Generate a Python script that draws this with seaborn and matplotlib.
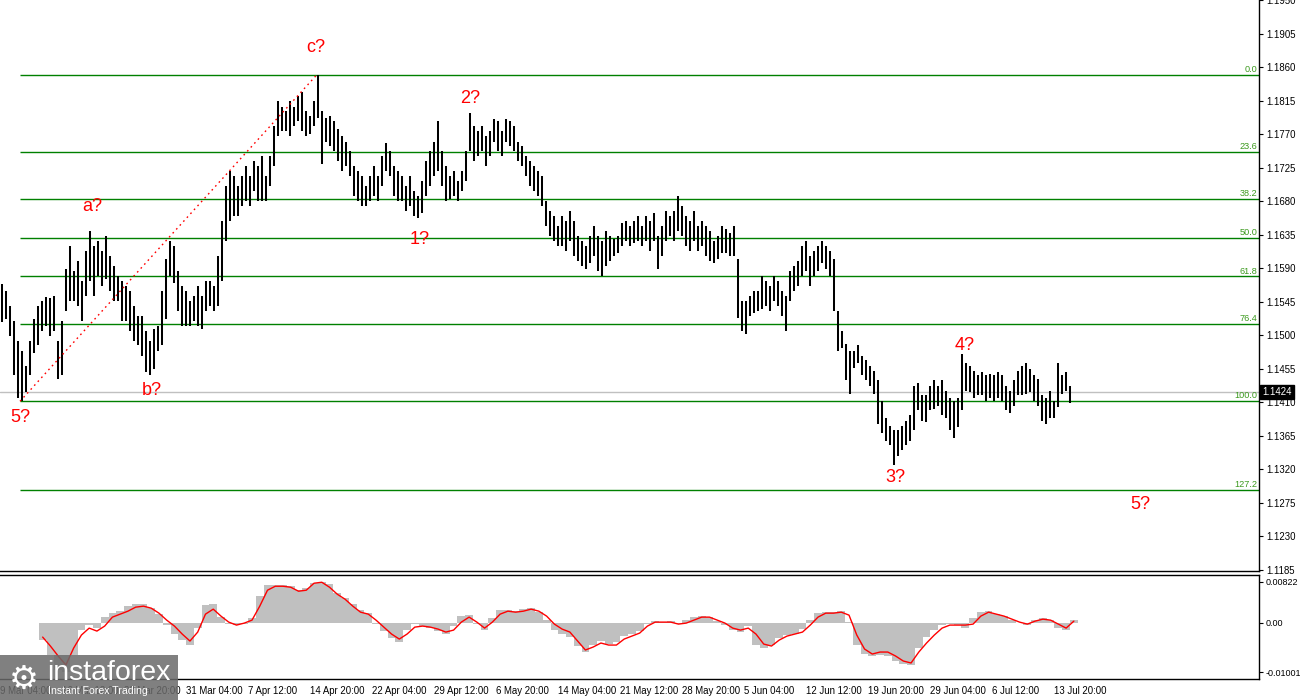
import numpy as np
import matplotlib
matplotlib.use("Agg")
import matplotlib.pyplot as plt
import matplotlib.transforms as mtransforms
from matplotlib.patches import Rectangle
import seaborn as sns

# ---------------- data ----------------
highs = [
1.1569, 1.1559, 1.1539, 1.1519, 1.1492, 1.1479, 1.1459, 1.1492, 1.1522, 1.1539,
1.1546, 1.1551, 1.1550, 1.1553, 1.1492, 1.1519, 1.1589, 1.1620, 1.1586, 1.1600,
1.1573, 1.1613, 1.1640, 1.1620, 1.1626, 1.1613, 1.1633, 1.1606, 1.1593, 1.1580,
1.1573, 1.1566, 1.1559, 1.1539, 1.1526, 1.1526, 1.1506, 1.1492, 1.1508, 1.1512,
1.1559, 1.1602, 1.1626, 1.1620, 1.1586, 1.1566, 1.1559, 1.1546, 1.1553, 1.1566,
1.1553, 1.1573, 1.1573, 1.1566, 1.1606, 1.1653, 1.1700, 1.1720, 1.1714, 1.1700,
1.1714, 1.1727, 1.1714, 1.1734, 1.1727, 1.1740, 1.1714, 1.1740, 1.1781, 1.1814,
1.1807, 1.1801, 1.1814, 1.1807, 1.1821, 1.1827, 1.1801, 1.1794, 1.1814, 1.1850,
1.1801, 1.1791, 1.1794, 1.1787, 1.1777, 1.1767, 1.1760, 1.1747, 1.1727, 1.1720,
1.1714, 1.1700, 1.1714, 1.1727, 1.1714, 1.1740, 1.1758, 1.1747, 1.1727, 1.1720,
1.1714, 1.1700, 1.1714, 1.1693, 1.1687, 1.1707, 1.1734, 1.1747, 1.1760, 1.1787,
1.1747, 1.1727, 1.1714, 1.1720, 1.1707, 1.1720, 1.1747, 1.1798, 1.1781, 1.1774,
1.1781, 1.1767, 1.1774, 1.1790, 1.1787, 1.1774, 1.1790, 1.1787, 1.1781, 1.1760,
1.1754, 1.1740, 1.1734, 1.1727, 1.1720, 1.1714, 1.1680, 1.1667, 1.1660, 1.1647,
1.1660, 1.1653, 1.1667, 1.1653, 1.1633, 1.1626, 1.1620, 1.1633, 1.1647, 1.1633,
1.1626, 1.1640, 1.1633, 1.1629, 1.1633, 1.1651, 1.1653, 1.1647, 1.1653, 1.1660,
1.1647, 1.1660, 1.1653, 1.1664, 1.1633, 1.1647, 1.1667, 1.1660, 1.1667, 1.1687,
1.1673, 1.1660, 1.1653, 1.1667, 1.1647, 1.1653, 1.1647, 1.1640, 1.1626, 1.1633,
1.1647, 1.1643, 1.1637, 1.1647, 1.1602, 1.1546, 1.1546, 1.1553, 1.1559, 1.1559,
1.1580, 1.1573, 1.1566, 1.1580, 1.1573, 1.1559, 1.1553, 1.1586, 1.1593, 1.1600,
1.1620, 1.1626, 1.1606, 1.1613, 1.1620, 1.1626, 1.1620, 1.1613, 1.1602, 1.1533,
1.1506, 1.1488, 1.1479, 1.1479, 1.1486, 1.1472, 1.1466, 1.1459, 1.1452, 1.1439,
1.1412, 1.1388, 1.1378, 1.1372, 1.1372, 1.1378, 1.1385, 1.1392, 1.1432, 1.1436,
1.1419, 1.1419, 1.1432, 1.1439, 1.1432, 1.1439, 1.1425, 1.1416, 1.1412, 1.1416,
1.1475, 1.1463, 1.1459, 1.1452, 1.1446, 1.1450, 1.1446, 1.1448, 1.1446, 1.1450,
1.1446, 1.1432, 1.1425, 1.1439, 1.1452, 1.1459, 1.1463, 1.1455, 1.1446, 1.1441,
1.1419, 1.1415, 1.1425, 1.1412, 1.1463, 1.1446, 1.1450, 1.1432]

lows = [
1.1517, 1.1522, 1.1499, 1.1446, 1.1415, 1.1412, 1.1423, 1.1446, 1.1476, 1.1486,
1.1506, 1.1512, 1.1499, 1.1506, 1.1441, 1.1446, 1.1533, 1.1546, 1.1546, 1.1539,
1.1519, 1.1553, 1.1573, 1.1553, 1.1580, 1.1566, 1.1575, 1.1559, 1.1546, 1.1546,
1.1519, 1.1519, 1.1506, 1.1492, 1.1486, 1.1472, 1.1450, 1.1446, 1.1455, 1.1479,
1.1486, 1.1522, 1.1580, 1.1570, 1.1533, 1.1512, 1.1512, 1.1512, 1.1519, 1.1512,
1.1508, 1.1533, 1.1539, 1.1533, 1.1539, 1.1573, 1.1626, 1.1653, 1.1660, 1.1660,
1.1673, 1.1680, 1.1673, 1.1693, 1.1680, 1.1680, 1.1680, 1.1700, 1.1727, 1.1767,
1.1774, 1.1774, 1.1767, 1.1781, 1.1787, 1.1774, 1.1767, 1.1770, 1.1781, 1.1791,
1.1730, 1.1760, 1.1754, 1.1747, 1.1734, 1.1720, 1.1727, 1.1714, 1.1687, 1.1680,
1.1673, 1.1673, 1.1680, 1.1687, 1.1680, 1.1700, 1.1720, 1.1714, 1.1687, 1.1680,
1.1680, 1.1667, 1.1673, 1.1660, 1.1657, 1.1664, 1.1687, 1.1700, 1.1714, 1.1720,
1.1700, 1.1680, 1.1683, 1.1687, 1.1680, 1.1693, 1.1707, 1.1747, 1.1734, 1.1740,
1.1747, 1.1727, 1.1740, 1.1760, 1.1747, 1.1740, 1.1760, 1.1754, 1.1747, 1.1734,
1.1727, 1.1714, 1.1700, 1.1693, 1.1687, 1.1673, 1.1647, 1.1633, 1.1626, 1.1620,
1.1620, 1.1613, 1.1626, 1.1606, 1.1600, 1.1593, 1.1589, 1.1597, 1.1606, 1.1586,
1.1580, 1.1593, 1.1600, 1.1606, 1.1610, 1.1620, 1.1626, 1.1620, 1.1624, 1.1626,
1.1620, 1.1626, 1.1613, 1.1626, 1.1589, 1.1606, 1.1626, 1.1633, 1.1626, 1.1640,
1.1633, 1.1620, 1.1613, 1.1626, 1.1613, 1.1620, 1.1606, 1.1600, 1.1597, 1.1602,
1.1610, 1.1610, 1.1606, 1.1606, 1.1523, 1.1506, 1.1502, 1.1526, 1.1530, 1.1533,
1.1535, 1.1539, 1.1533, 1.1546, 1.1539, 1.1526, 1.1506, 1.1546, 1.1559, 1.1566,
1.1580, 1.1586, 1.1566, 1.1580, 1.1586, 1.1597, 1.1589, 1.1580, 1.1533, 1.1479,
1.1482, 1.1439, 1.1421, 1.1456, 1.1463, 1.1446, 1.1439, 1.1432, 1.1421, 1.1381,
1.1369, 1.1358, 1.1352, 1.1325, 1.1338, 1.1345, 1.1352, 1.1358, 1.1372, 1.1399,
1.1385, 1.1383, 1.1399, 1.1401, 1.1405, 1.1392, 1.1389, 1.1372, 1.1362, 1.1376,
1.1399, 1.1425, 1.1423, 1.1416, 1.1419, 1.1419, 1.1412, 1.1415, 1.1412, 1.1415,
1.1412, 1.1399, 1.1395, 1.1405, 1.1419, 1.1419, 1.1421, 1.1423, 1.1412, 1.1405,
1.1385, 1.1381, 1.1388, 1.1389, 1.1403, 1.1421, 1.1425, 1.1409]

macd_hist = [
-0.00350, -0.00652, -0.00954, -0.01001, -0.00652, -0.00149, -0.00048, -0.00109, 0.00113, 0.00193,
0.00233, 0.00334, 0.00374, 0.00374, 0.00294, 0.00173, -0.00048, -0.00229, -0.00350, -0.00451,
-0.00109, 0.00354, 0.00374, 0.00113, -0.00028, -0.00048, -0.00028, 0.00093, 0.00535, 0.00757,
0.00757, 0.00757, 0.00736, 0.00656, 0.00696, 0.00802, 0.00822, 0.00777, 0.00596, 0.00495,
0.00374, 0.00254, 0.00193, -0.00028, -0.00169, -0.00310, -0.00390, -0.00149, -0.00028, -0.00068,
-0.00109, -0.00169, -0.00229, -0.00068, 0.00133, 0.00153, -0.00028, -0.00149, 0.00093, 0.00254,
0.00254, 0.00233, 0.00274, 0.00294, 0.00213, 0.00052, -0.00149, -0.00229, -0.00290, -0.00471,
-0.00592, -0.00451, -0.00370, -0.00431, -0.00390, -0.00270, -0.00229, -0.00169, -0.00028, 0.00032,
0.00012, 0.00032, -0.00028, 0.00052, 0.00113, 0.00133, 0.00113, 0.00032, -0.00048, -0.00149,
-0.00189, -0.00068, -0.00451, -0.00511, -0.00451, -0.00310, -0.00249, -0.00229, -0.00129, 0.00052,
0.00193, 0.00213, 0.00213, 0.00233, 0.00012, -0.00451, -0.00632, -0.00672, -0.00652, -0.00672,
-0.00773, -0.00833, -0.00853, -0.00511, -0.00290, -0.00149, -0.00048, -0.00028, -0.00048, -0.00109,
0.00093, 0.00213, 0.00233, 0.00173, 0.00133, 0.00052, -0.00008, -0.00048, 0.00052, 0.00093,
0.00052, -0.00109, -0.00149, 0.00052]

macd_signal = [
-0.00290, -0.00471, -0.00672, -0.00853, -0.00511, -0.00249, -0.00109, -0.00169, -0.00068, 0.00113,
0.00173, 0.00233, 0.00314, 0.00334, 0.00294, 0.00193, 0.00052, -0.00068, -0.00229, -0.00370,
-0.00189, 0.00173, 0.00274, 0.00133, 0.00012, -0.00048, -0.00008, 0.00052, 0.00334, 0.00656,
0.00736, 0.00736, 0.00716, 0.00636, 0.00656, 0.00797, 0.00817, 0.00716, 0.00575, 0.00475,
0.00334, 0.00213, 0.00173, 0.00052, -0.00089, -0.00229, -0.00330, -0.00229, -0.00089, -0.00068,
-0.00089, -0.00129, -0.00189, -0.00149, 0.00012, 0.00113, 0.00012, -0.00109, 0.00012, 0.00173,
0.00233, 0.00213, 0.00233, 0.00274, 0.00233, 0.00133, -0.00028, -0.00129, -0.00189, -0.00370,
-0.00551, -0.00491, -0.00410, -0.00451, -0.00451, -0.00330, -0.00270, -0.00209, -0.00068, 0.00012,
0.00012, 0.00012, -0.00028, -0.00008, 0.00052, 0.00113, 0.00113, 0.00052, -0.00008, -0.00109,
-0.00149, -0.00109, -0.00229, -0.00431, -0.00471, -0.00350, -0.00270, -0.00229, -0.00189, -0.00048,
0.00113, 0.00193, 0.00193, 0.00213, 0.00153, -0.00249, -0.00531, -0.00632, -0.00592, -0.00592,
-0.00672, -0.00773, -0.00813, -0.00592, -0.00410, -0.00249, -0.00109, -0.00048, -0.00048, -0.00048,
-0.00028, 0.00133, 0.00213, 0.00173, 0.00133, 0.00072, 0.00012, -0.00028, 0.00032, 0.00072,
0.00052, -0.00028, -0.00109, 0.00032]

date_labels = ["9 Mar 04:00", "16 Mar 12:00", "23 Mar 20:00", "31 Mar 04:00", "7 Apr 12:00",
               "14 Apr 20:00", "22 Apr 04:00", "29 Apr 12:00", "6 May 20:00", "14 May 04:00",
               "21 May 12:00", "28 May 20:00", "5 Jun 04:00", "12 Jun 12:00", "19 Jun 20:00",
               "29 Jun 04:00", "6 Jul 12:00", "13 Jul 20:00"]

price_ticks = [1.1185, 1.1230, 1.1275, 1.1320, 1.1365, 1.1410, 1.1455, 1.1500, 1.1545,
               1.1590, 1.1635, 1.1680, 1.1725, 1.1770, 1.1815, 1.1860, 1.1905, 1.1950]

osc_ticks = [-0.01001, 0.0, 0.00822]
osc_tick_labels = ["-0.01001", "0.00", "0.00822"]

fib_high = 1.1850
fib_low = 1.1411
fib_ratios = [0.0, 23.6, 38.2, 50.0, 61.8, 76.4, 100.0, 127.2]
fib_names = ["0.0", "23.6", "38.2", "50.0", "61.8", "76.4", "100.0", "127.2"]

last_price = 1.1424

wave_names = ["5?", "a?", "b?", "c?", "1?", "2?", "3?", "4?", "5?"]
wave_bar = [4.5, 22.5, 37.5, 78.5, 104.5, 117.0, 223.25, 240.75, 284.5]
wave_price = [1.1389, 1.1673, 1.1425, 1.1886, 1.1629, 1.1818, 1.1308, 1.1486, 1.1273]

# ---------------- figure ----------------
sns.set_style("white")
plt.rcParams['font.family'] = ['Liberation Sans', 'DejaVu Sans']

W, H = 1300, 700
fig = plt.figure(figsize=(13, 7), dpi=100)
fig.patch.set_facecolor("white")

right_px = 1259
ax = fig.add_axes([0, 1 - 571 / H, right_px / W, 571 / H])
ax2 = fig.add_axes([0, 1 - 679 / H, right_px / W, 104 / H])

bar_x = np.arange(len(highs))
xlim = (-0.5, (right_px - 2) / 4)

# price bars
ax.vlines(bar_x, lows, highs, color="black", linewidth=1.45, zorder=3)

# fibonacci levels
fib_levels = [fib_high - r / 100.0 * (fib_high - fib_low) for r in fib_ratios]
trans = mtransforms.blended_transform_factory(ax.transAxes, ax.transData)
for lvl, name in zip(fib_levels, fib_names):
    ax.hlines(lvl, 4.5, xlim[1], color="#008000", linewidth=1.0, zorder=2)
    ax.text(0.9985, lvl + 0.00012, name, transform=trans, ha="right", va="bottom",
            fontsize=6.6, color="#3c9a1e", zorder=4)

# red dotted fib baseline
sns.lineplot(x=[4.5, 78.75], y=[fib_low, fib_high], ax=ax, color="red",
             linewidth=1.0, linestyle=(0, (1.2, 2.6)), zorder=4)

# current price line
ax.axhline(last_price, color="#c0c0c0", linewidth=1.0, zorder=1)

# wave labels
for name, bx, py in zip(wave_names, wave_bar, wave_price):
    ax.text(bx, py, name, color="red", fontsize=13, ha="center", va="center", zorder=5)

ax.set_xlim(*xlim)
ax.set_ylim(1.1183, 1.19502)
ax.set_xticks([])
ax.yaxis.tick_right()
ax.set_yticks(price_ticks)
ax.set_yticklabels([f"{p:.4f}" for p in price_ticks])
ax.tick_params(axis="y", direction="out", length=3, width=0.8, pad=2,
               labelsize=6.9, colors="black")
for s in ["top", "left"]:
    ax.spines[s].set_visible(False)
for s in ["right", "bottom"]:
    ax.spines[s].set_color("black")
    ax.spines[s].set_linewidth(1.0)

# current price box
ax.text(1.0025, last_price, f"{last_price:.4f}", transform=trans, ha="left", va="center",
        fontsize=6.9, color="white", zorder=6, clip_on=False,
        bbox=dict(boxstyle="square,pad=0.2", facecolor="black", edgecolor="black"))

# ---------------- oscillator ----------------
osc_x = np.arange(len(macd_hist)) * 2 + 0.5
ax2.bar(osc_x, macd_hist, width=2.0, color="#c0c0c0", linewidth=0, zorder=2)
sns.lineplot(x=osc_x, y=macd_signal, ax=ax2, color="red", linewidth=1.0, zorder=3)
ax2.set_xlim(*xlim)
ax2.set_ylim(-0.01136, 0.00963)
ax2.yaxis.tick_right()
ax2.set_yticks(osc_ticks)
ax2.set_yticklabels(osc_tick_labels)
ax2.tick_params(axis="y", direction="out", length=3, width=0.8, pad=2,
                labelsize=6.5, colors="black")
tick_pos = [-10.5 + 16 * k for k in range(len(date_labels))]
ax2.set_xticks(tick_pos)
ax2.set_xticklabels(date_labels)
ax2.tick_params(axis="x", direction="out", length=3, width=0.8, pad=2,
                labelsize=6.9, colors="black")
for lbl in ax2.get_xticklabels():
    lbl.set_horizontalalignment("left")
ax2.spines["left"].set_visible(False)
for s in ["top", "right", "bottom"]:
    ax2.spines[s].set_color("black")
    ax2.spines[s].set_linewidth(1.0)
ax2.set_xlabel("")
ax2.set_ylabel("")
ax.set_xlabel("")
ax.set_ylabel("")

# ---------------- watermark ----------------
fig.patches.append(Rectangle((0, 0), 178 / W, 45 / H, transform=fig.transFigure,
                             facecolor="#6a6a6a", alpha=0.85, edgecolor="none", zorder=10))
fig.text(24 / W, 1 - 679 / H, "\u2699", color="white", fontsize=24, ha="center",
         va="center", family="DejaVu Sans", zorder=11)
fig.text(47 / W, 1 - 673 / H, "instaforex", color="white", fontsize=20.5,
         ha="left", va="center", zorder=11)
fig.text(48 / W, 1 - 691 / H, "Instant Forex Trading", color="white", fontsize=7.6,
         ha="left", va="center", zorder=11)

fig.savefig("out.png", dpi=100)
